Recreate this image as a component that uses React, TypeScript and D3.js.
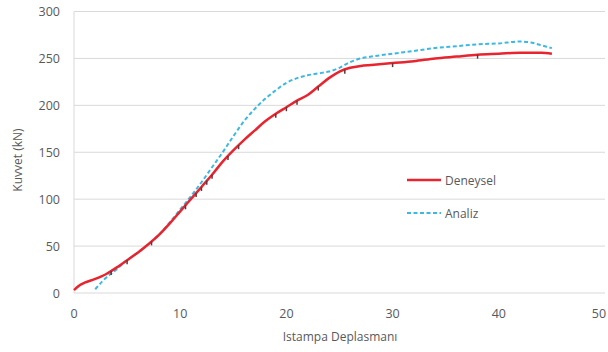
import React from "react";
import * as d3 from "d3";

const xTicks = [0, 10, 20, 30, 40, 50];
const yTicks = [0, 50, 100, 150, 200, 250, 300];

const deneyselX = [0, 0.5, 1, 2, 3, 4, 5, 6, 7, 8, 9, 10, 11, 12, 13, 14, 15, 16, 17, 18, 19, 20, 21, 22, 23, 24, 25, 26, 27, 28, 30, 32, 34, 36, 38, 40, 42, 44, 45];
const deneyselY = [3, 8, 11, 15, 20, 27, 35, 43, 52, 62, 74, 87, 100, 113, 126, 140, 152, 163, 173, 183, 191, 198, 205, 211, 220, 229, 236, 240, 242, 243, 245, 247, 250, 252, 254, 255, 256, 256, 255];

const analizX = [2, 2.8, 4, 5, 6, 7, 8, 9, 10, 11, 12, 13, 14, 15, 16, 17, 18, 19, 20, 21, 22, 23, 24, 25, 26, 27, 28, 30, 32, 34, 36, 38, 40, 42, 43, 44, 45];
const analizY = [4, 14, 25, 35, 43, 52, 62, 75, 89, 103, 118, 134, 150, 167, 183, 196, 207, 216, 224, 229, 232, 234, 236, 240, 246, 250, 252, 255, 258, 261, 263, 265, 266, 268, 267, 264, 261];

const markerX = [3.5, 5, 7.3, 10.5, 11.5, 12, 12.5, 13, 14.5, 15.5, 19, 20, 21, 23, 25.5, 30, 38];

const W = 608, H = 352;
const x = d3.scaleLinear().domain([0, 50]).range([74, 605]);
const y = d3.scaleLinear().domain([0, 300]).range([293, 11.5]);

const font = "'Open Sans', 'DejaVu Sans', sans-serif";
const grid = "#d9d9d9";
const txt = "#595959";

export default function App() {
  const line = d3.line<number>().x((d) => x(d[0] as any)).y((d) => y(d[1] as any)).curve(d3.curveMonotoneX) as any;
  const dData = deneyselX.map((v, i) => [v, deneyselY[i]]);
  const aData = analizX.map((v, i) => [v, analizY[i]]);
  const interp = (xv: number) => {
    for (let i = 0; i < deneyselX.length - 1; i++) {
      if (xv >= deneyselX[i] && xv <= deneyselX[i + 1]) {
        const t = (xv - deneyselX[i]) / (deneyselX[i + 1] - deneyselX[i]);
        return deneyselY[i] + t * (deneyselY[i + 1] - deneyselY[i]);
      }
    }
    return 0;
  };
  return (
    <svg width={W} height={H} style={{ position: "absolute", left: 0, top: 0, background: "#fff" }}>
      {yTicks.map((t) => (
        <g key={t}>
          {t > 0 && <line x1={x(0)} x2={x(50)} y1={y(t)} y2={y(t)} stroke={grid} strokeWidth={1} />}
          <text x={60} y={y(t) + 4.5} textAnchor="end" fontFamily={font} fontSize={12.5} fill={txt}>{t}</text>
        </g>
      ))}
      <line x1={x(0)} x2={x(0)} y1={y(300)} y2={y(0)} stroke={grid} strokeWidth={1} />
      <line x1={x(0)} x2={x(50)} y1={y(0)} y2={y(0)} stroke={grid} strokeWidth={1} />
      {xTicks.map((t) => (
        <text key={t} x={t === 50 ? 599 : x(t)} y={318} textAnchor="middle" fontFamily={font} fontSize={12.5} fill={txt}>{t}</text>
      ))}
      <text x={340} y={341} textAnchor="middle" fontFamily={font} fontSize={12} fill={txt}>Istampa Deplasmanı</text>
      <text transform={`translate(22,160) rotate(-90)`} textAnchor="middle" fontFamily={font} fontSize={12} fill={txt}>Kuvvet (kN)</text>
      <path d={line(aData)} fill="none" stroke="#3cb8e2" strokeWidth={2} strokeDasharray="4,2.5" />
      <path d={line(dData)} fill="none" stroke="#e8242f" strokeWidth={2.5} />
      {markerX.map((m, i) => (
        <line key={i} x1={x(m)} x2={x(m)} y1={y(interp(m))} y2={y(interp(m)) + 4} stroke="#5a3a3a" strokeWidth={1.5} />
      ))}
      <line x1={407} x2={441} y1={180} y2={180} stroke="#e8242f" strokeWidth={2.5} />
      <text x={445} y={184.5} fontFamily={font} fontSize={12} fill={txt}>Deneysel</text>
      <line x1={407} x2={441} y1={213} y2={213} stroke="#3cb8e2" strokeWidth={2} strokeDasharray="4,2.5" />
      <text x={445} y={217.5} fontFamily={font} fontSize={12} fill={txt}>Analiz</text>
    </svg>
  );
}
